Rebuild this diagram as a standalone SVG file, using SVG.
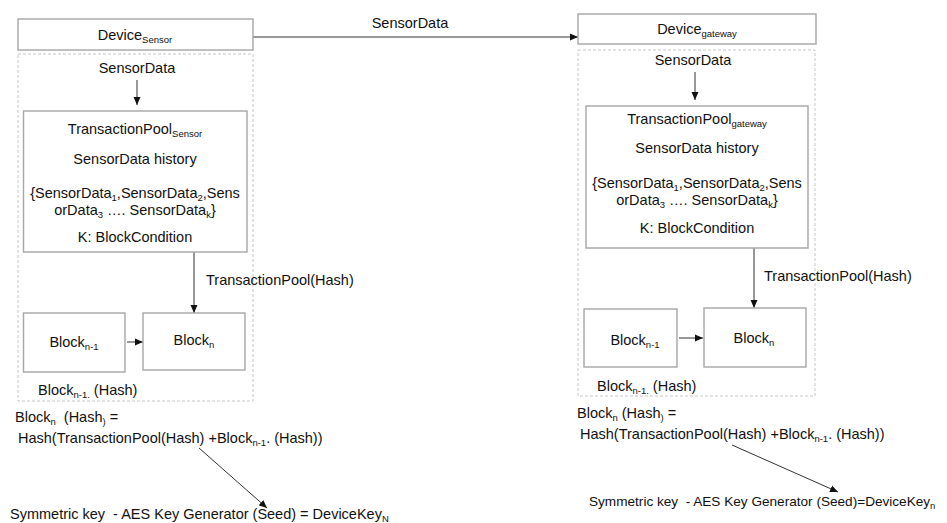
<svg xmlns="http://www.w3.org/2000/svg" width="947" height="523" viewBox="0 0 947 523">
<style>
text{font-family:"Liberation Sans",Arial,sans-serif;font-size:14.5px;fill:#111}
.c{text-anchor:middle}
.s{font-size:9.5px}
.box{fill:#fff;stroke:#a6a6a6;stroke-width:1.4}
.dash{fill:none;stroke:#c6c6c6;stroke-width:1;stroke-dasharray:3 2}
.ln{stroke:#333;stroke-width:1;fill:none;marker-end:url(#ah)}
</style>
<defs>
<marker id="ah" markerUnits="userSpaceOnUse" markerWidth="8" markerHeight="8" refX="8" refY="4" orient="auto">
<path d="M0,0.5 L8,4 L0,7.5 z" fill="#111"/>
</marker>
</defs>
<rect width="947" height="523" fill="#fff"/>

<g id="containers">
<rect class="dash" x="18" y="54" width="235" height="347"/>
<rect class="dash" x="578" y="50" width="237" height="346"/>
</g>

<g id="connectors">
<line class="ln" x1="253" y1="37" x2="578" y2="37"/>
<line class="ln" x1="137" y1="80" x2="137" y2="105"/>
<line class="ln" x1="194" y1="252" x2="194" y2="313"/>
<line class="ln" x1="127" y1="342" x2="143" y2="342"/>
<line class="ln" x1="199" y1="448" x2="267" y2="508"/>
<line class="ln" x1="695" y1="72" x2="695" y2="100"/>
<line class="ln" x1="754" y1="248" x2="754" y2="308"/>
<line class="ln" x1="679" y1="338" x2="703" y2="338"/>
<line class="ln" x1="732" y1="445" x2="838" y2="492"/>
</g>

<g id="labels">
<text class="c" x="410" y="28">SensorData</text>
<text x="206" y="285">TransactionPool(Hash)</text>
<text x="764" y="281">TransactionPool(Hash)</text>
</g>

<g id="device-sensor">
<rect class="box" x="18" y="19" width="235" height="31"/>
<text class="c" x="135" y="40">Device<tspan class="s" dy="3">Sensor</tspan></text>
</g>
<text class="c" x="137" y="73">SensorData</text>

<g id="tp-sensor">
<rect class="box" x="23.5" y="111" width="223.5" height="141"/>
<text class="c" x="135" y="134">TransactionPool<tspan class="s" dy="3">Sensor</tspan></text>
<text class="c" x="135" y="164">SensorData history</text>
<text class="c" x="135" y="198">{SensorData<tspan class="s" dy="3">1</tspan><tspan dy="-3">,SensorData</tspan><tspan class="s" dy="3">2</tspan><tspan dy="-3">,Sens</tspan></text>
<text class="c" x="135" y="215">orData<tspan class="s" dy="3">3</tspan><tspan dy="-3"> …. SensorData</tspan><tspan class="s" dy="3">k</tspan><tspan dy="-3">}</tspan></text>
<text class="c" x="135" y="242">K: BlockCondition</text>
</g>

<g id="block-n1-sensor">
<rect class="box" x="23.5" y="313" width="101.5" height="59"/>
<text class="c" x="74" y="347">Block<tspan class="s" dy="3">n-1</tspan></text>
</g>
<g id="block-n-sensor">
<rect class="box" x="143" y="313" width="102" height="57"/>
<text class="c" x="194" y="345">Block<tspan class="s" dy="3">n</tspan></text>
</g>
<text x="38" y="395">Block<tspan class="s" dy="3">n-1.</tspan><tspan dy="-3"> (Hash)</tspan></text>
<text x="15" y="422" xml:space="preserve">Block<tspan class="s" dy="3">n</tspan><tspan dy="-3">  (Hash</tspan><tspan class="s" dy="3">)</tspan><tspan dy="-3"> =</tspan></text>
<text x="18" y="443">Hash(TransactionPool(Hash) +Block<tspan class="s" dy="3">n-1</tspan><tspan dy="-3">. (Hash))</tspan></text>
<text x="10" y="519" xml:space="preserve">Symmetric key  - AES Key Generator (Seed) = DeviceKey<tspan class="s" dy="3">N</tspan></text>

<g id="device-gateway">
<rect class="box" x="578" y="14" width="238" height="30"/>
<text class="c" x="697" y="34">Device<tspan class="s" dy="3">gateway</tspan></text>
</g>
<text class="c" x="693" y="65">SensorData</text>

<g id="tp-gateway">
<rect class="box" x="586" y="106" width="222" height="142"/>
<text class="c" x="697" y="124">TransactionPool<tspan class="s" dy="3">gateway</tspan></text>
<text class="c" x="697" y="153">SensorData history</text>
<text class="c" x="697" y="188">{SensorData<tspan class="s" dy="3">1</tspan><tspan dy="-3">,SensorData</tspan><tspan class="s" dy="3">2</tspan><tspan dy="-3">,Sens</tspan></text>
<text class="c" x="697" y="205">orData<tspan class="s" dy="3">3</tspan><tspan dy="-3"> …. SensorData</tspan><tspan class="s" dy="3">k</tspan><tspan dy="-3">}</tspan></text>
<text class="c" x="697" y="233">K: BlockCondition</text>
</g>

<g id="block-n1-gateway">
<rect class="box" x="584" y="309" width="93" height="58"/>
<text class="c" x="635" y="345">Block<tspan class="s" dy="3">n-1</tspan></text>
</g>
<g id="block-n-gateway">
<rect class="box" x="704" y="308" width="102" height="59"/>
<text class="c" x="754" y="343">Block<tspan class="s" dy="3">n</tspan></text>
</g>
<text x="597" y="391">Block<tspan class="s" dy="3">n-1.</tspan><tspan dy="-3"> (Hash)</tspan></text>
<text x="577" y="418">Block<tspan class="s" dy="3">n</tspan><tspan dy="-3"> (Hash</tspan><tspan class="s" dy="3">)</tspan><tspan dy="-3"> =</tspan></text>
<text x="580" y="439">Hash(TransactionPool(Hash) +Block<tspan class="s" dy="3">n-1</tspan><tspan dy="-3">. (Hash))</tspan></text>
<text x="589" y="506" xml:space="preserve" style="font-size:13.6px">Symmetric key  - AES Key Generator (Seed)=DeviceKey<tspan class="s" dy="3">n</tspan></text>
</svg>
